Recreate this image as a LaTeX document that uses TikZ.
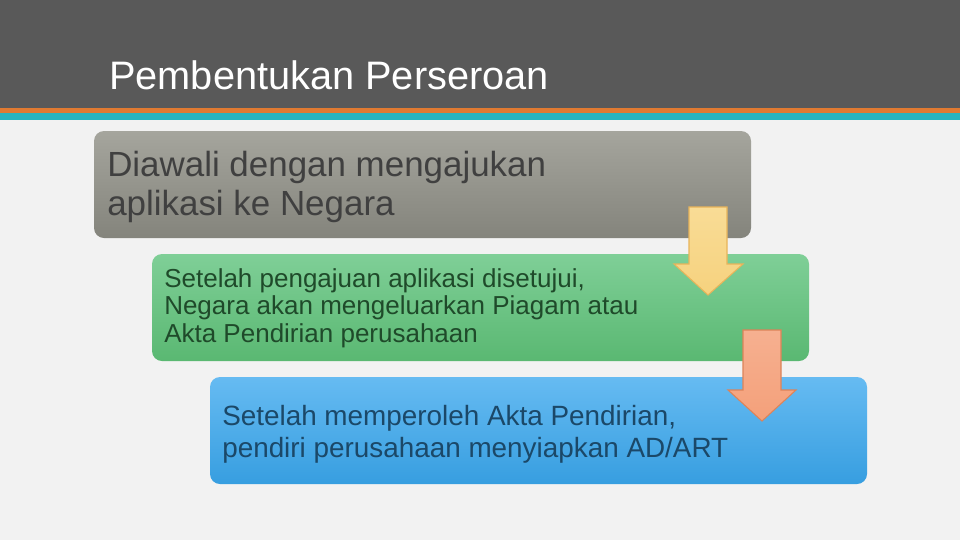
\documentclass[tikz,border=0pt]{standalone}
\usepackage{fontspec}
\setmainfont{Liberation Sans}
\newfontfamily\titlefont{Liberation Sans}
\usetikzlibrary{fit}
\definecolor{bgc}{HTML}{F2F2F2}
\definecolor{bannerc}{HTML}{595959}
\definecolor{orangec}{HTML}{E07A32}
\definecolor{tealc}{HTML}{28B4BE}
\definecolor{g1t}{HTML}{A5A59D}
\definecolor{g1b}{HTML}{84847C}
\definecolor{g2t}{HTML}{7FCF97}
\definecolor{g2b}{HTML}{5AB872}
\definecolor{g3t}{HTML}{66BBF2}
\definecolor{g3b}{HTML}{379EE0}
\definecolor{t1}{HTML}{404040}
\definecolor{t2}{HTML}{1F4A2A}
\definecolor{t3}{HTML}{1B4868}
\definecolor{a1t}{HTML}{F9DC96}
\definecolor{a1b}{HTML}{F6D27E}
\definecolor{a1d}{HTML}{E8B45A}
\definecolor{a2t}{HTML}{F6B090}
\definecolor{a2b}{HTML}{F4A07A}
\definecolor{a2d}{HTML}{DD8358}
\tikzset{
  stepbox/.style={rectangle, rounded corners=7.5pt, inner sep=0pt, draw=none},
  lbl/.style={anchor=base west, inner sep=0pt, align=left},
  blockarrow/.style={line width=0.8pt, line join=miter}
}
\begin{document}
\begin{tikzpicture}[x=0.75pt,y=-0.75pt]
\useasboundingbox (0,0) rectangle (960,540);
\fill[bgc] (0,0) rectangle (960,540);
% banner
\fill[bannerc] (0,0) rectangle (960,108);
\fill[orangec] (0,108) rectangle (960,112.5);
\fill[tealc] (0,112.5) rectangle (960,120);
\node[lbl, text=white, font=\titlefont\fontsize{29.8}{35}\selectfont] (title) at (109,89) {Pembentukan Perseroan};
% boxes
\node[stepbox, fit={(94,131)(751,238)}, top color=g1t, bottom color=g1b] (box1) {};
\node[stepbox, fit={(152,254)(809,361)}, top color=g2t, bottom color=g2b] (box2) {};
\node[stepbox, fit={(210,377)(867,484)}, top color=g3t, bottom color=g3b] (box3) {};
% texts
\node[lbl, text=t1, font=\fontsize{26.2}{29.6}\selectfont] (txt1) at (107,176.5)
  {\vtop{\hbox{Diawali dengan mengajukan}\hbox{aplikasi ke Negara}}};
\node[lbl, text=t2, font=\fontsize{19.5}{20.6}\selectfont] (txt2) at (164,287.5)
  {\vtop{\hbox{Setelah pengajuan aplikasi disetujui,}\hbox{Negara akan mengeluarkan Piagam atau}\hbox{Akta Pendirian perusahaan}}};
\node[lbl, text=t3, font=\fontsize{20.9}{24}\selectfont] (txt3) at (222,425)
  {\vtop{\hbox{Setelah memperoleh Akta Pendirian,}\hbox{pendiri perusahaan menyiapkan AD/ART}}};
% block arrows
\draw[blockarrow, draw=a1d, top color=a1t, bottom color=a1b]
  (689,207) -- (727,207) -- (727,264) -- (743,264) -- (708,295) -- (674,264) -- (689,264) -- cycle;
\draw[blockarrow, draw=a2d, top color=a2t, bottom color=a2b]
  (743,330) -- (781,330) -- (781,390) -- (796,390) -- (762,421) -- (728,390) -- (743,390) -- cycle;
\end{tikzpicture}
\end{document}
